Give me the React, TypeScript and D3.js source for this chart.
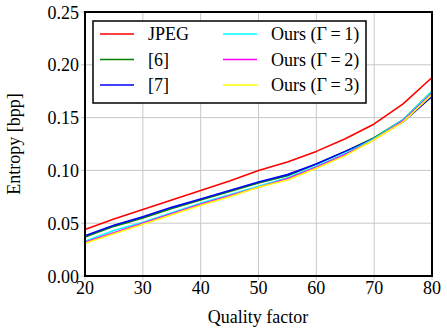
import * as d3 from "d3";

const quality = [20, 25, 30, 35, 40, 45, 50, 55, 60, 65, 70, 75, 80];
const jpeg = [0.044, 0.054, 0.063, 0.072, 0.081, 0.09, 0.1, 0.108, 0.118, 0.13, 0.144, 0.163, 0.188];
const ref6 = [0.037, 0.047, 0.055, 0.064, 0.072, 0.08, 0.088, 0.095, 0.106, 0.118, 0.131, 0.148, 0.175];
const ref7 = [0.038, 0.048, 0.056, 0.065, 0.073, 0.081, 0.089, 0.096, 0.106, 0.118, 0.13, 0.146, 0.17];
const ours1 = [0.033, 0.043, 0.051, 0.06, 0.069, 0.077, 0.085, 0.093, 0.104, 0.116, 0.13, 0.148, 0.175];
const ours2 = [0.032, 0.041, 0.05, 0.059, 0.068, 0.076, 0.084, 0.092, 0.103, 0.115, 0.129, 0.147, 0.173];
const ours3 = [0.031, 0.04, 0.049, 0.058, 0.067, 0.075, 0.084, 0.091, 0.102, 0.114, 0.129, 0.146, 0.172];

const xTicks = [20, 30, 40, 50, 60, 70, 80];
const yTicks = [0, 0.05, 0.1, 0.15, 0.2, 0.25];

const series = [
  { name: "JPEG", values: jpeg, color: "#ff0000" },
  { name: "[6]", values: ref6, color: "#008000" },
  { name: "[7]", values: ref7, color: "#0000ff" },
  { name: "Ours (Γ\u2009=\u20091)", values: ours1, color: "#00ffff" },
  { name: "Ours (Γ\u2009=\u20092)", values: ours2, color: "#ff00ff" },
  { name: "Ours (Γ\u2009=\u20093)", values: ours3, color: "#ffff00" },
];

const W = 447;
const H = 333;
const m = { left: 85, top: 12, right: 15, bottom: 57 };

export default function App() {
  const x = d3.scaleLinear().domain([20, 80]).range([m.left, W - m.right]);
  const y = d3.scaleLinear().domain([0, 0.25]).range([H - m.bottom, m.top]);
  const line = d3
    .line<number>()
    .x((_, i) => x(quality[i]))
    .y((d) => y(d));

  const font = "'Liberation Serif', 'DejaVu Serif', serif";
  const fs = 18;

  // legend: two columns of three
  const lg = { x: 93, y: 21, w: 273, h: 82 };

  return (
    <svg
      width={W}
      height={H}
      style={{ position: "absolute", left: 0, top: 0, background: "#fff" }}
      fontFamily={font}
    >
      <rect width={W} height={H} fill="#fff" />
      {/* grid */}
      <g stroke="#c8c8c8" strokeWidth={1}>
        {xTicks.map((t) => (
          <line key={"gx" + t} x1={x(t)} x2={x(t)} y1={y(0)} y2={y(0.25)} />
        ))}
        {yTicks.map((t) => (
          <line key={"gy" + t} x1={x(20)} x2={x(80)} y1={y(t)} y2={y(t)} />
        ))}
      </g>
      {/* ticks */}
      <g stroke="#c8c8c8" strokeWidth={1}>
        {yTicks.map((t) => (
          <line key={"ty" + t} x1={x(20) - 4} x2={x(20)} y1={y(t)} y2={y(t)} />
        ))}
        {xTicks.map((t) => (
          <line key={"tx" + t} x1={x(t)} x2={x(t)} y1={y(0)} y2={y(0) + 4} />
        ))}
      </g>
      {/* series */}
      <g fill="none" strokeWidth={1.6} strokeLinejoin="round">
        {series.map((s) => (
          <path key={s.name} d={line(s.values) ?? ""} stroke={s.color} />
        ))}
      </g>
      {/* frame */}
      <rect
        x={x(20)}
        y={y(0.25)}
        width={x(80) - x(20)}
        height={y(0) - y(0.25)}
        fill="none"
        stroke="#000"
        strokeWidth={2}
      />
      {/* tick labels */}
      <g fontSize={fs} fill="#000">
        {yTicks.map((t) => (
          <text key={"ly" + t} x={x(20) - 6} y={y(t) + 6.5} textAnchor="end">
            {d3.format(".2f")(t)}
          </text>
        ))}
        {xTicks.map((t) => (
          <text key={"lx" + t} x={x(t)} y={y(0) + 18} textAnchor="middle">
            {t}
          </text>
        ))}
      </g>
      {/* axis labels */}
      <text x={258} y={323} fontSize={fs} textAnchor="middle">
        Quality factor
      </text>
      <text
        transform={`translate(20, ${(y(0) + y(0.25)) / 2}) rotate(-90)`}
        fontSize={fs}
        textAnchor="middle"
      >
        Entropy [bpp]
      </text>
      {/* legend */}
      <g>
        <rect x={lg.x} y={lg.y} width={lg.w} height={lg.h} fill="#fff" stroke="#000" strokeWidth={1.5} />
        {series.map((s, i) => {
          const col = Math.floor(i / 3);
          const row = i % 3;
          const lx = lg.x + 7 + col * 123;
          const ly = lg.y + 13 + row * 25.5;
          return (
            <g key={"lg" + s.name}>
              <line x1={lx} x2={lx + 34} y1={ly} y2={ly} stroke={s.color} strokeWidth={1.6} />
              <text x={lx + 48} y={ly + 6} fontSize={fs}>
                {s.name}
              </text>
            </g>
          );
        })}
      </g>
    </svg>
  );
}
